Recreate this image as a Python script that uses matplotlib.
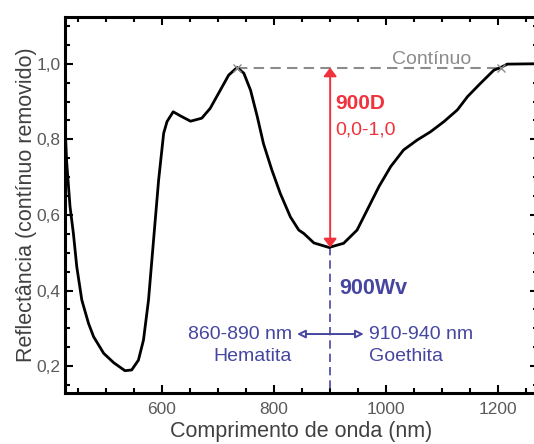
import matplotlib
matplotlib.use("Agg")
import matplotlib.pyplot as plt
from matplotlib.ticker import MultipleLocator, FuncFormatter

plt.rcParams['font.family'] = ['Liberation Sans', 'DejaVu Sans']

# spectrum
wl = [427, 430, 436, 442, 448, 457, 469, 478, 496, 514, 534, 546, 558, 567,
      576, 585, 594, 603, 609, 620, 633, 651, 671, 686, 704, 719, 734, 746,
      758, 770, 781, 796, 811, 829, 844, 853, 871, 898, 912, 924, 948, 966,
      987, 1008, 1031, 1055, 1079, 1103, 1127, 1145, 1168, 1192, 1204, 1216,
      1270]
refl = [0.84, 0.74, 0.622, 0.551, 0.463, 0.375, 0.313, 0.278, 0.234, 0.209,
        0.188, 0.19, 0.216, 0.269, 0.375, 0.534, 0.692, 0.816, 0.847, 0.873,
        0.862, 0.848, 0.856, 0.882, 0.93, 0.97, 0.99, 0.975, 0.93, 0.86,
        0.789, 0.719, 0.657, 0.595, 0.56, 0.551, 0.526, 0.514, 0.52, 0.525,
        0.56, 0.613, 0.675, 0.728, 0.772, 0.798, 0.82, 0.847, 0.878, 0.913,
        0.948, 0.983, 0.99, 0.999, 1.0]

cont_x = [734, 1204]
cont_y = [0.99, 0.99]
band_x = 900
band_min = 0.514
range_left = 841
range_right = 960
range_y = 0.285

red = '#f0323c'
blue = '#4646a0'
gray = '#8c8c8c'

fig = plt.figure(figsize=(5.34, 4.44), dpi=100)
ax = fig.add_axes([0.1217, 0.114, 0.885, 0.848])

ax.plot(wl, refl, color='black', lw=2.0, zorder=3)

# continuum
ax.plot(cont_x, cont_y, color=gray, lw=1.5, ls=(0, (5, 3)), zorder=2)
ax.plot(cont_x, cont_y, ls='none', marker='x', color=gray, ms=6, mew=1, zorder=4)
ax.text(1081, 1.0, 'Contínuo', color=gray, fontsize=14, ha='center', va='baseline')

# band depth
ax.annotate('', xy=(band_x, band_min), xytext=(band_x, cont_y[0]),
            arrowprops=dict(arrowstyle='<|-|>,head_width=0.3', color=red, lw=1.4,
                            mutation_scale=13, shrinkA=0, shrinkB=0))
ax.text(909, 0.895, '900D', color=red, fontsize=15, fontweight='bold', va='center')
ax.text(909, 0.825, '0,0-1,0', color=red, fontsize=14, va='center')

# band position
ax.plot([band_x, band_x], [band_min, 0.12], color=blue, lw=1.2, ls=(0, (5, 3)), zorder=2)
ax.text(917, 0.406, '900Wv', color=blue, fontsize=15.5, fontweight='bold', va='center')
ax.annotate('', xy=(range_left, range_y), xytext=(band_x, range_y),
            arrowprops=dict(arrowstyle='-|>', color=blue, lw=1.4, fc='white',
                            mutation_scale=12, shrinkA=0, shrinkB=0))
ax.annotate('', xy=(range_right, range_y), xytext=(band_x, range_y),
            arrowprops=dict(arrowstyle='-|>', color=blue, lw=1.4, fc='white',
                            mutation_scale=12, shrinkA=0, shrinkB=0))
ax.text(832, range_y, '860-890 nm', color=blue, fontsize=14, ha='right', va='center')
ax.text(832, 0.225, 'Hematita', color=blue, fontsize=14, ha='right', va='center')
ax.text(969, range_y, '910-940 nm', color=blue, fontsize=14, ha='left', va='center')
ax.text(970, 0.225, 'Goethita', color=blue, fontsize=14, ha='left', va='center')

ax.set_xlim(427, 1270)
ax.set_ylim(0.128, 1.124)
ax.xaxis.set_major_locator(MultipleLocator(200))
ax.xaxis.set_minor_locator(MultipleLocator(50))
ax.yaxis.set_major_locator(MultipleLocator(0.2))
ax.yaxis.set_minor_locator(MultipleLocator(0.05))
ax.yaxis.set_major_formatter(FuncFormatter(lambda v, p: ('%.1f' % v).replace('.', ',')))

ax.tick_params(which='both', direction='in', top=True, right=True, width=1.5,
               color='black', labelcolor='#5a5a5a', labelsize=12.5)
ax.tick_params(which='major', length=6)
ax.tick_params(which='minor', length=3.5)
ax.tick_params(axis='x', pad=6)
ax.tick_params(axis='y', pad=3)
for s in ax.spines.values():
    s.set_linewidth(2.2)

ax.set_xlabel('Comprimento de onda (nm)', fontsize=15.5, color='#404040', labelpad=3)
ax.set_ylabel('Reflectância (contínuo removido)', fontsize=15.5, color='#404040', labelpad=0)

fig.savefig('out.png', dpi=100)
